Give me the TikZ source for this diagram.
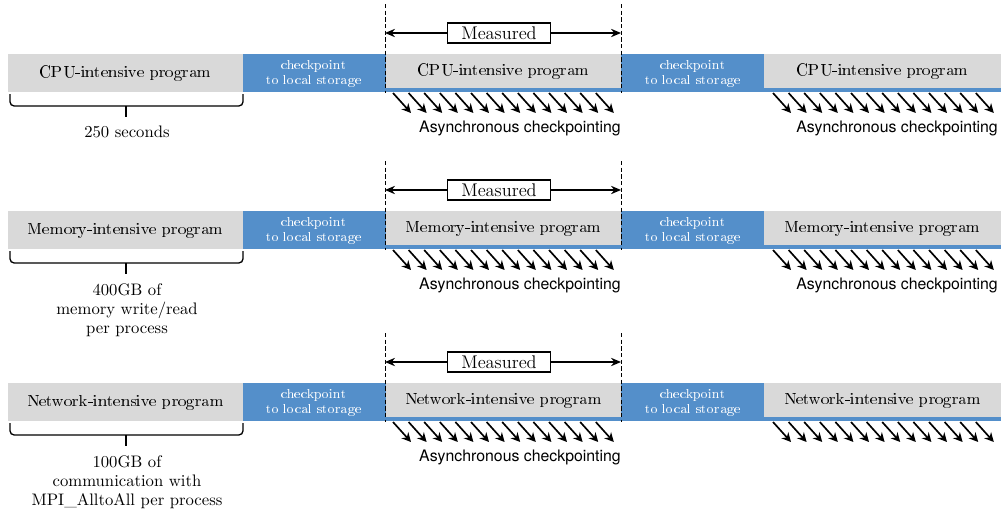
\documentclass[tikz,border=0pt]{standalone}
\usepackage[T1,TU]{fontenc}
\usepackage{fontspec}
\newfontfamily\helv{TeX Gyre Heros}
\newcommand\pal{\fontencoding{T1}\fontfamily{qpl}\selectfont}
\usetikzlibrary{arrows.meta,fit}
\definecolor{progray}{RGB}{217,217,217}
\definecolor{ckblue}{RGB}{84,143,202}
\begin{document}
\begin{tikzpicture}
[x=0.6pt,y=-0.6pt,
prog/.style={fill=progray,inner sep=0pt},
ckpt/.style={fill=ckblue,inner sep=0pt},
progtext/.style={font=\pal\fontsize{9.8}{11}\selectfont},
cktext/.style={text=white,align=center,font=\pal\fontsize{8.5}{9}\selectfont},
measbox/.style={draw,line width=0.8pt,fill=white,minimum width=62pt,minimum height=12pt,inner sep=0pt,font=\fontsize{11}{12}\selectfont},
measline/.style={line width=0.8pt,-{Stealth[length=6pt,width=5pt]}},
bound/.style={dashed,line width=0.6pt,dash pattern=on 2.5pt off 1.5pt},
async/.style={line width=1pt,-{Stealth[length=5.5pt,width=5.5pt]}},
asytext/.style={font=\helv\fontsize{9.5}{11}\selectfont},
bracket/.style={line width=0.8pt,rounded corners=2.5pt},
note/.style={align=center,font=\fontsize{10}{11.4}\selectfont,inner sep=0pt}]
\useasboundingbox (0,0) rectangle (1001,510);
\foreach \r / \dy / \name / \amount / \tail in
  {cpu/0/CPU/{250 seconds}/1,
   mem/157/Memory/{400GB of\\memory write/read\\per process}/1,
   net/329/Network/{100GB of\\communication with\\MPI\_AlltoAll per process}/0}
{
\begin{scope}[shift={(0,\dy)}]
%blocks
	\node[ckpt,fit={(243,54) (1001,92)}] (\r-strip) {};
	\node[prog,fit={(8,54) (243,92)}] (\r-p1) {};
	\node[prog,fit={(386,54) (621,88)}] (\r-p2) {};
	\node[prog,fit={(764,54) (1001,88)}] (\r-p3) {};
	\node[progtext] at (\r-p1.center) {\name-intensive program};
	\node[progtext] at (\r-p2.center) {\name-intensive program};
	\node[progtext] at (\r-p3.center) {\name-intensive program};
	\node[cktext] (\r-c1) at (314,74) {checkpoint\\to local storage};
	\node[cktext] (\r-c2) at (693,74) {checkpoint\\to local storage};
%measured window
	\draw[bound] (385,4) -- (385,93);
	\draw[bound] (621,4) -- (621,93);
	\coordinate (\r-a) at (385,33);
	\coordinate (\r-b) at (621,33);
	\node[measbox] (\r-m) at (499,33) {Measured};
	\draw[measline] (\r-m) -- (\r-a);
	\draw[measline] (\r-m) -- (\r-b);
%brace
	\draw[bracket] (10,94) -- (10,106) -- (243,106) -- (243,94);
	\draw[line width=0.9pt] (126,106) -- (126,117);
	\node[note,anchor=north] (\r-n) at (127,126) {\amount};
%async
	\foreach \i in {0,...,13}
	{
		\draw[async] (393+15.6*\i,93) -- ++(18,20);
		\draw[async] (773+15.6*\i,93) -- ++(18,20);
	}
	\node[asytext] (\r-s1) at (520,128) {Asynchronous checkpointing};
	\ifnum\tail=1
	\node[asytext] (\r-s2) at (897,128) {Asynchronous checkpointing};
	\fi
\end{scope}
}
\end{tikzpicture}
\end{document}
